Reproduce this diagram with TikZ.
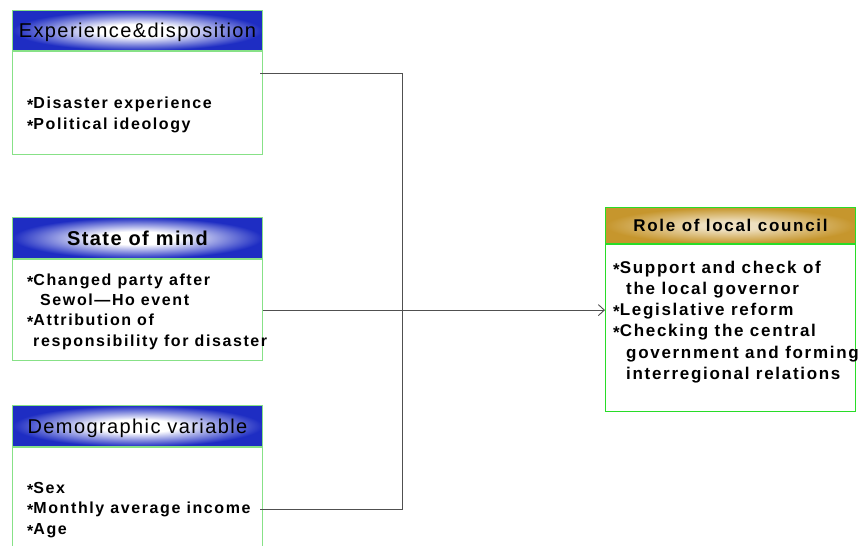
\documentclass[tikz,border=0pt]{standalone}
\usepackage{fontspec}
\setmainfont{Liberation Sans}
\newfontfamily\itemfont[LetterSpace=10]{Liberation Sans}
\newfontfamily\headfont[LetterSpace=7]{Liberation Sans}
\usetikzlibrary{positioning,arrows.meta}

\definecolor{headblue}{RGB}{30,45,195}
\definecolor{headgold}{RGB}{198,150,45}
\definecolor{framegreen}{RGB}{135,225,135}
\definecolor{rolegreen}{RGB}{40,220,40}
\definecolor{linkgray}{RGB}{80,80,80}

\pgfdeclareradialshading{blueglow}{\pgfpoint{0bp}{0bp}}{color(0bp)=(white); color(8bp)=(white); color(25bp)=(headblue); color(50bp)=(headblue)}
\pgfdeclareradialshading{goldglow}{\pgfpoint{0bp}{0bp}}{color(0bp)=(headgold!30!white); color(6bp)=(headgold!30!white); color(25bp)=(headgold); color(50bp)=(headgold)}

\tikzset{
  body/.style={draw=framegreen, line width=1.2pt, minimum width=250pt, anchor=north west, inner sep=0pt},
  head/.style={draw=framegreen, line width=1pt, minimum width=250pt, minimum height=40pt, anchor=north west, inner sep=0pt, text depth=0pt, font=\headfont\fontsize{20}{22}\selectfont},
  items/.style={anchor=west, align=left, inner sep=0pt, font=\itemfont\bfseries\fontsize{16}{20.3}\selectfont},
  link/.style={draw=linkgray, line width=0.9pt},
}
\newcommand{\bul}{\raisebox{-2pt}{*}}

\begin{document}
\begin{tikzpicture}[x=1pt,y=-1pt]
   \useasboundingbox (0,0) rectangle (865,546);
   \clip (0,0) rectangle (865,546);

   % headers
   \node [head, shading=blueglow] (exp-head) at (12,10) {Experience\&disposition};
   \node [head, shading=blueglow, minimum height=41pt, font=\headfont\bfseries\fontsize{20}{22}\selectfont] (mind-head) at (12,217) {State of mind};
   \node [head, shading=blueglow, minimum height=41pt] (demo-head) at (12,405) {Demographic variable};
   \node [head, shading=goldglow, draw=rolegreen, minimum height=36pt, font=\itemfont\bfseries\fontsize{17}{20}\selectfont] (role-head) at (605,207) {Role of local council};

   % bodies
   \node [body, minimum height=103pt] (exp) at (exp-head.south west) {};
   \node [body, minimum height=101pt] (mind) at (mind-head.south west) {};
   \node [body, minimum height=120pt] (demo) at (demo-head.south west) {};
   \node [body, draw=rolegreen, minimum height=167pt] (role) at (role-head.south west) {};

   % items
   \node [items] (exp-items) at (27,115) {\bul Disaster experience\\\bul Political ideology};
   \node [items] (mind-items) at (27,311.5) {\bul Changed party after\\\hspace*{13pt}Sewol\textemdash Ho event\\\bul Attribution of\\\hspace*{6pt}responsibility for disaster};
   \node [items] (demo-items) at (27,510) {\bul Sex\\\bul Monthly average income\\\bul Age};
   \node [items, font=\itemfont\bfseries\fontsize{17}{21.2}\selectfont] (role-items) at (613,322) {\bul Support and check of\\\hspace*{13pt}the local governor\\\bul Legislative reform\\\bul Checking the central\\\hspace*{13pt}government and forming\\\hspace*{13pt}interregional relations};

   % links
   \coordinate (exp-out) at (260,73);
   \coordinate (demo-out) at (260,509);
   \coordinate (hub) at (402,309);
   \draw [link] (exp-out) -| (hub);
   \draw [link] (demo-out) -| (hub);
   \draw [link, -{Straight Barb[length=6pt,width=11pt]}] (mind.east) -- (mind.east -| role.west);

\end{tikzpicture}
\end{document}
